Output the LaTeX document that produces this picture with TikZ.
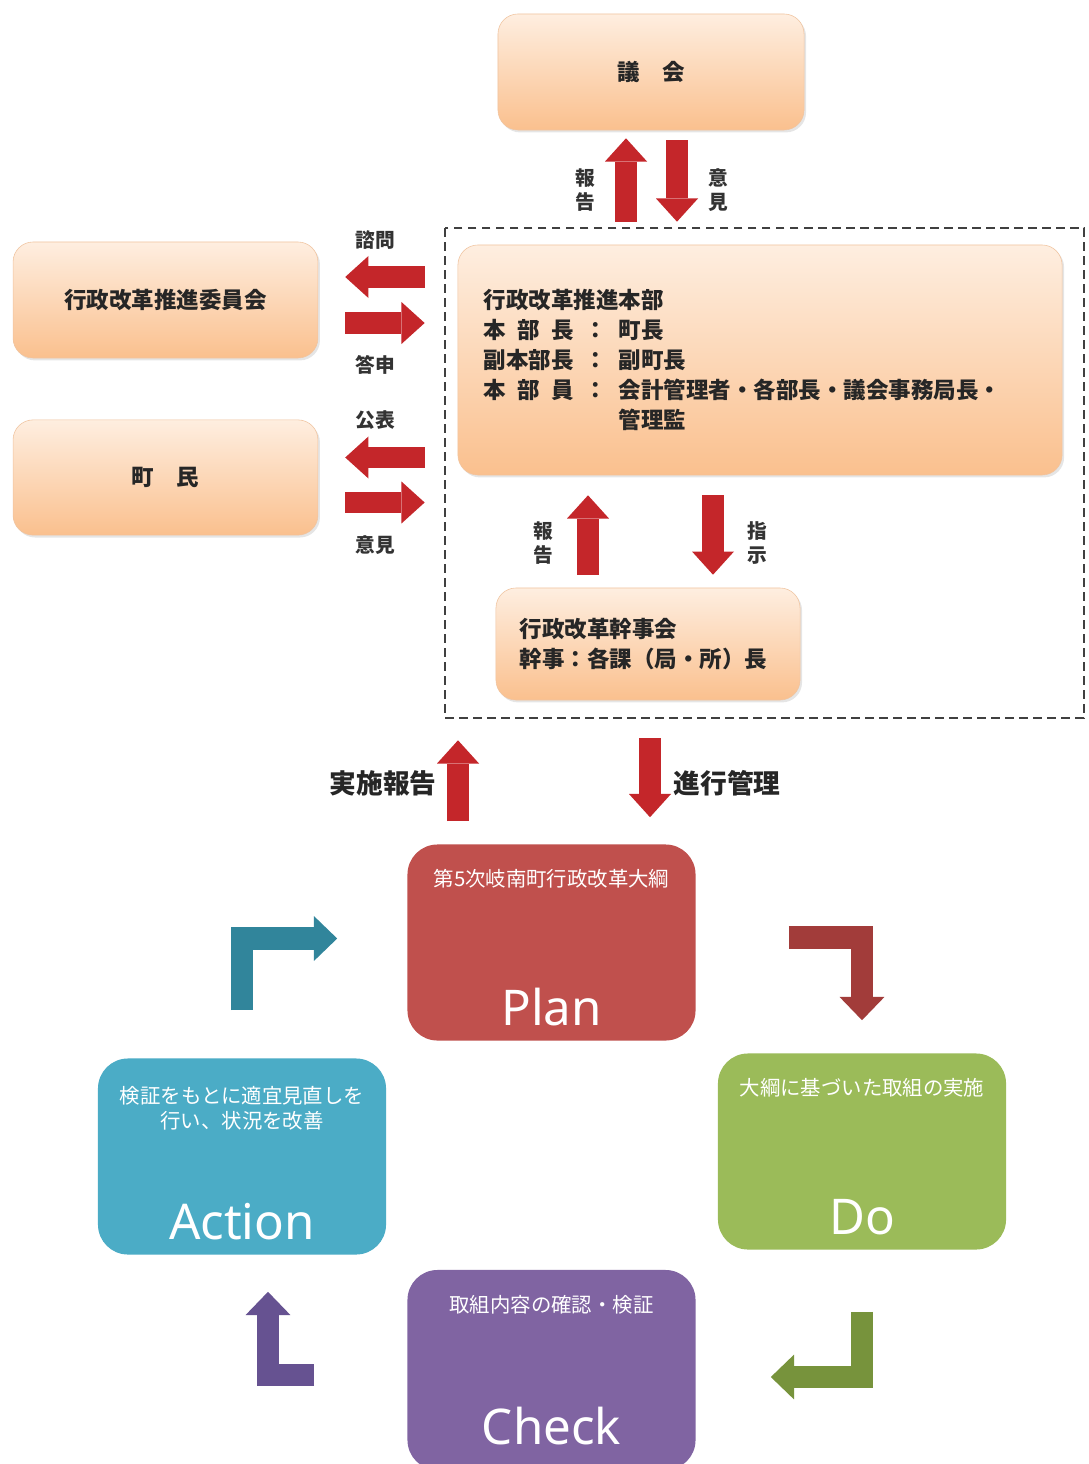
\documentclass[tikz,border=0pt]{standalone}
\usepackage{fontspec}
\setmainfont{Noto Sans CJK JP}
\newfontfamily\pdcafont{Noto Sans}
\usetikzlibrary{arrows.meta,calc,shadows}

\definecolor{orangetop}{RGB}{254,238,224}
\definecolor{orangebot}{RGB}{250,192,142}
\definecolor{orangeline}{RGB}{240,196,160}
\definecolor{arrowred}{RGB}{196,38,42}
\definecolor{planred}{RGB}{192,80,77}
\definecolor{dogreen}{RGB}{155,187,89}
\definecolor{checkpurple}{RGB}{128,100,162}
\definecolor{actionblue}{RGB}{75,172,198}
\definecolor{bentred}{RGB}{162,60,58}
\definecolor{bentgreen}{RGB}{119,147,60}
\definecolor{bentpurple}{RGB}{102,82,145}
\definecolor{bentteal}{RGB}{49,133,155}

\newdimen\unitpx \unitpx=0.025cm

\tikzset{
  orgbox/.style={rounded corners=0.5cm, top color=orangetop, bottom color=orangebot,
    draw=orangeline, thin, drop shadow={shadow xshift=0.05cm, shadow yshift=-0.06cm, opacity=0.2},
    font=\fontsize{16}{21.3}\selectfont\bfseries, text=black!85},
  pdcabox/.style={rounded corners=0.75cm, minimum width=7.2cm, minimum height=4.9cm},
  pdcasmall/.style={text=white, font=\fontsize{14.5}{17.5}\selectfont, align=center},
  pdcabig/.style={text=white, font=\pdcafont\fontsize{35}{40}\selectfont, anchor=base},
  lbl/.style={text=black!80, font=\fontsize{14}{17.5}\selectfont\bfseries, align=center},
  biglbl/.style={text=black!85, font=\fontsize{19}{22}\selectfont\bfseries},
  redarrow/.style={draw=arrowred, line width=0.53cm, -{Triangle[length=0.58cm, width=1.05cm, line width=0pt]}},
  bentarrow/.style={line width=0.57cm, line join=miter, -{Triangle[length=0.58cm, width=1.12cm, line width=0pt]}},
}

\begin{document}
\begin{tikzpicture}[x=0.025cm, y=-0.025cm]
  \fill[white] (0,0) rectangle (1088,1464);
  \useasboundingbox (0,0) rectangle (1088,1464);

  % Frame of the headquarters
  \draw[black!75, line width=1.3pt, dash pattern=on 0.22cm off 0.13cm] (445,228) rectangle (1084,718);

  % Organisation
  \node[orgbox, minimum width=7.65cm, minimum height=2.9cm] (gikai) at (651,72) {議　会};
  \node[orgbox, minimum width=7.62cm, minimum height=2.9cm] (iinkai) at (165.5,300) {行政改革推進委員会};
  \node[orgbox, minimum width=7.62cm, minimum height=2.88cm] (chomin) at (165.5,477.5) {町　民};
  \node[orgbox, text width=13.8cm, inner xsep=0.65cm, minimum height=5.75cm, align=left] (honbu) at (760,360) {%
    行政改革推進本部\\
    \makebox[4em][s]{本\hfill 部\hfill 長}\hspace{0.45em}：\hspace{0.55em}町長\\
    副本部長\hspace{0.45em}：\hspace{0.55em}副町長\\
    \makebox[4em][s]{本\hfill 部\hfill 員}\hspace{0.45em}：\hspace{0.55em}会計管理者・各部長・議会事務局長・\\
    \hspace{6em}管理監};
  \node[orgbox, text width=6.4cm, inner xsep=0.6cm, minimum height=2.8cm, align=left] (kanji) at (648,644)
    {行政改革幹事会\\幹事：各課（局・所）長};

  % PDCA
  \node[pdcabox, fill=planred] (plan) at (551.5,942.5) {};
  \node[pdcabox, fill=dogreen] (do) at (862,1151.5) {};
  \node[pdcabox, fill=actionblue] (action) at (242,1156.5) {};
  \node[pdcabox, fill=checkpurple, minimum height=5cm] (check) at (551.5,1370) {};

  \node[pdcasmall] (plantxt) at ($(plan.north)+(0,35)$) {第5次岐南町行政改革大綱};
  \node[pdcabig] (planlbl) at ($(plan.south)+(0,-15)$) {Plan};
  \node[pdcasmall] (dotxt) at ($(do.north)+(0,35)$) {大綱に基づいた取組の実施};
  \node[pdcabig] (dolbl) at ($(do.south)+(0,-15)$) {Do};
  \node[pdcasmall] (actiontxt) at ($(action.north)+(0,50)$) {検証をもとに適宜見直しを\\行い、状況を改善};
  \node[pdcabig] (actionlbl) at ($(action.south)+(0,-15)$) {Action};
  \node[pdcasmall] (checktxt) at ($(check.north)+(0,35)$) {取組内容の確認・検証};
  \node[pdcabig] (checklbl) at ($(check.north)+(0,175)$) {Check};

  % Labels
  \node[lbl] (gikaiup) at (585,190) {報\\告};
  \node[lbl] (gikaidn) at (718,190) {意\\見};
  \node[lbl] (shimon) at (375,240) {諮問};
  \node[lbl] (toshin) at (375,365) {答申};
  \node[lbl] (kohyo) at (375,420) {公表};
  \node[lbl] (iken) at (375,545) {意見};
  \node[lbl] (houkoku) at (543,543) {報\\告};
  \node[lbl] (shiji) at (757,543) {指\\示};
  \node[biglbl] (jisshi) at (383,783) {実施報告};
  \node[biglbl] (shinko) at (727,783) {進行管理};

  % Arrows
  \draw[redarrow, shorten <=23\unitpx, shorten >=8\unitpx] ([xshift=-25\unitpx]gikai.south |- honbu.north) -- ([xshift=-25\unitpx]gikai.south);
  \draw[redarrow, shorten <=10\unitpx, shorten >=23\unitpx] ([xshift=26\unitpx]gikai.south) -- ([xshift=26\unitpx]gikai.south |- honbu.north);
  \draw[redarrow, shorten <=33\unitpx, shorten >=27\unitpx] ([yshift=23\unitpx]honbu.west |- iinkai.east) -- ([yshift=23\unitpx]iinkai.east);
  \draw[redarrow, shorten <=27\unitpx, shorten >=33\unitpx] ([yshift=-23\unitpx]iinkai.east) -- ([yshift=-23\unitpx]honbu.west |- iinkai.east);
  \draw[redarrow, shorten <=33\unitpx, shorten >=27\unitpx] ([yshift=20\unitpx]honbu.west |- chomin.east) -- ([yshift=20\unitpx]chomin.east);
  \draw[redarrow, shorten <=27\unitpx, shorten >=33\unitpx] ([yshift=-25\unitpx]chomin.east) -- ([yshift=-25\unitpx]honbu.west |- chomin.east);
  \draw[redarrow, shorten <=13\unitpx, shorten >=20\unitpx] ([xshift=-60\unitpx]kanji.north) -- ([xshift=-60\unitpx]kanji.north |- honbu.south);
  \draw[redarrow, shorten <=20\unitpx, shorten >=13\unitpx] ([xshift=65\unitpx]kanji.north |- honbu.south) -- ([xshift=65\unitpx]kanji.north);
  \draw[redarrow, shorten <=23\unitpx, shorten >=40\unitpx] ([xshift=-93.5\unitpx]plan.north) -- ([xshift=-93.5\unitpx]plan.north |- kanji.south);
  \draw[redarrow, shorten <=38\unitpx, shorten >=27\unitpx] ([xshift=98.5\unitpx]plan.north |- kanji.south) -- ([xshift=98.5\unitpx]plan.north);

  % Cycle
  \draw[bentarrow, draw=bentteal, shorten <=52\unitpx, shorten >=70\unitpx] ([yshift=-4\unitpx]action.north) |- ([yshift=4\unitpx]plan.west);
  \draw[bentarrow, draw=bentred, shorten <=93\unitpx, shorten >=33\unitpx] ([yshift=5\unitpx]plan.east) -| (do.north);
  \draw[bentarrow, draw=bentgreen, shorten <=62\unitpx, shorten >=75\unitpx] (do.south) |- ([yshift=-7\unitpx]check.east);
  \draw[bentarrow, draw=bentpurple, shorten <=93\unitpx, shorten >=37\unitpx] ([yshift=-5\unitpx]check.west) -| ([xshift=26\unitpx]action.south);
\end{tikzpicture}
\end{document}
